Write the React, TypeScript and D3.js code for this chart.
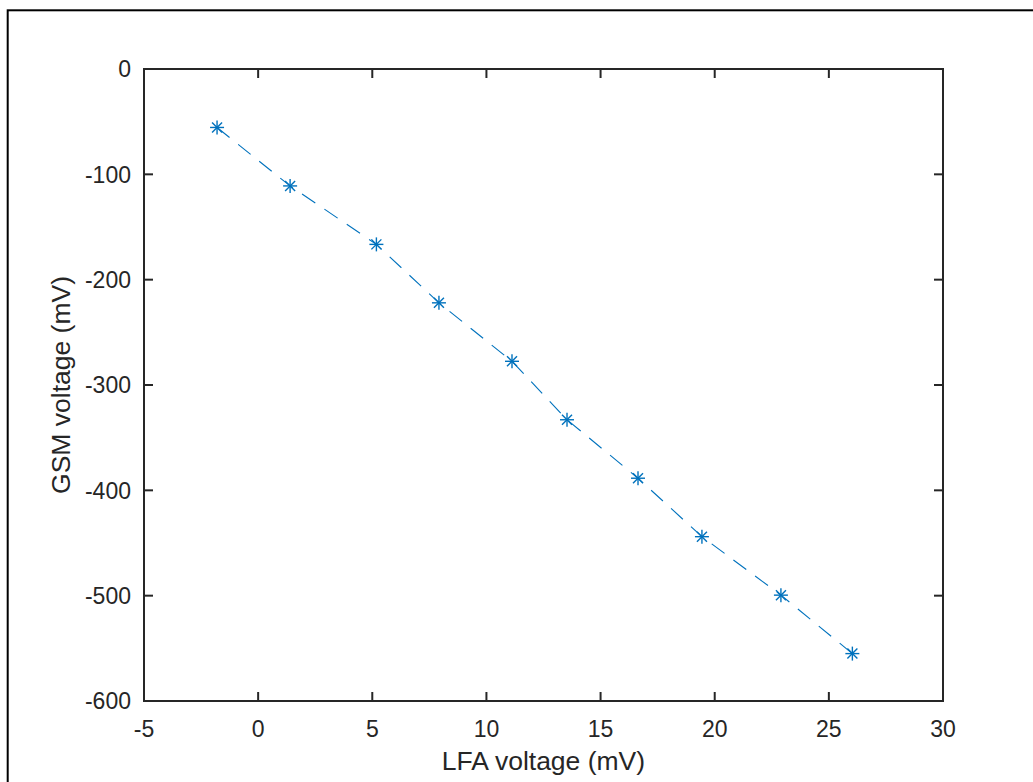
import React from "react";
import * as d3 from "d3";

// LFA vs GSM calibration measurements
const lfaVoltage = [-1.8, 1.4, 5.18, 7.92, 11.12, 13.53, 16.64, 19.44, 22.9, 26.03];
const gsmVoltage = [-55.5, -111, -166.5, -222, -277.5, -333, -388.5, -444, -499.5, -555];
const xTicks = [-5, 0, 5, 10, 15, 20, 25, 30];
const yTicks = [0, -100, -200, -300, -400, -500, -600];
const xLabel = "LFA voltage (mV)";
const yLabel = "GSM voltage (mV)";

const W = 1033;
const H = 782;
const plot = { left: 144, right: 943, top: 69, bottom: 701 };
const axisColor = "#262626";
const lineColor = "#0072BD";
const tickLen = 9;
const font = "'Liberation Sans', Arial, sans-serif";

export default function App() {
  const x = d3.scaleLinear().domain([-5, 30]).range([plot.left, plot.right]);
  const y = d3.scaleLinear().domain([-600, 0]).range([plot.bottom, plot.top]);
  const pts = lfaVoltage.map((v, i) => [v, gsmVoltage[i]] as [number, number]);
  const line = d3
    .line<[number, number]>()
    .x((d) => x(d[0]))
    .y((d) => y(d[1]));

  const r = 7;
  const rd = 5;

  return (
    <svg
      width={W}
      height={H}
      style={{ position: "absolute", left: 0, top: 0, background: "#fff" }}
      fontFamily={font}
    >
      {/* figure frame */}
      <rect x={7.7} y={10.3} width={W + 10} height={H + 10} fill="none" stroke="#000" strokeWidth={2} />

      {/* data line */}
      <path d={line(pts) || ""} fill="none" stroke={lineColor} strokeWidth={1.1} strokeDasharray="16 11" />
      {pts.map((d, i) => {
        const cx = x(d[0]);
        const cy = y(d[1]);
        return (
          <g key={i} stroke={lineColor} strokeWidth={1.4}>
            <line x1={cx - r} y1={cy} x2={cx + r} y2={cy} />
            <line x1={cx} y1={cy - r} x2={cx} y2={cy + r} />
            <line x1={cx - rd} y1={cy - rd} x2={cx + rd} y2={cy + rd} />
            <line x1={cx - rd} y1={cy + rd} x2={cx + rd} y2={cy - rd} />
          </g>
        );
      })}

      {/* axes box */}
      <rect
        x={plot.left}
        y={plot.top}
        width={plot.right - plot.left}
        height={plot.bottom - plot.top}
        fill="none"
        stroke={axisColor}
        strokeWidth={2}
      />

      {/* x ticks */}
      {xTicks.map((t) => (
        <g key={"x" + t}>
          <line x1={x(t)} x2={x(t)} y1={plot.bottom} y2={plot.bottom - tickLen} stroke={axisColor} strokeWidth={2} />
          <line x1={x(t)} x2={x(t)} y1={plot.top} y2={plot.top + tickLen} stroke={axisColor} strokeWidth={2} />
          <text x={x(t)} y={737} textAnchor="middle" fontSize={23} fill={axisColor}>
            {t}
          </text>
        </g>
      ))}

      {/* y ticks */}
      {yTicks.map((t) => (
        <g key={"y" + t}>
          <line x1={plot.left} x2={plot.left + tickLen} y1={y(t)} y2={y(t)} stroke={axisColor} strokeWidth={2} />
          <line x1={plot.right} x2={plot.right - tickLen} y1={y(t)} y2={y(t)} stroke={axisColor} strokeWidth={2} />
          <text x={131} y={y(t)} dy="0.36em" textAnchor="end" fontSize={23} fill={axisColor}>
            {t}
          </text>
        </g>
      ))}

      {/* axis titles */}
      <text x={(plot.left + plot.right) / 2} y={770} textAnchor="middle" fontSize={26.5} fill={axisColor}>
        {xLabel}
      </text>
      <text
        transform={`translate(70,${(plot.top + plot.bottom) / 2}) rotate(-90)`}
        textAnchor="middle"
        fontSize={26.5}
        fill={axisColor}
      >
        {yLabel}
      </text>
    </svg>
  );
}
